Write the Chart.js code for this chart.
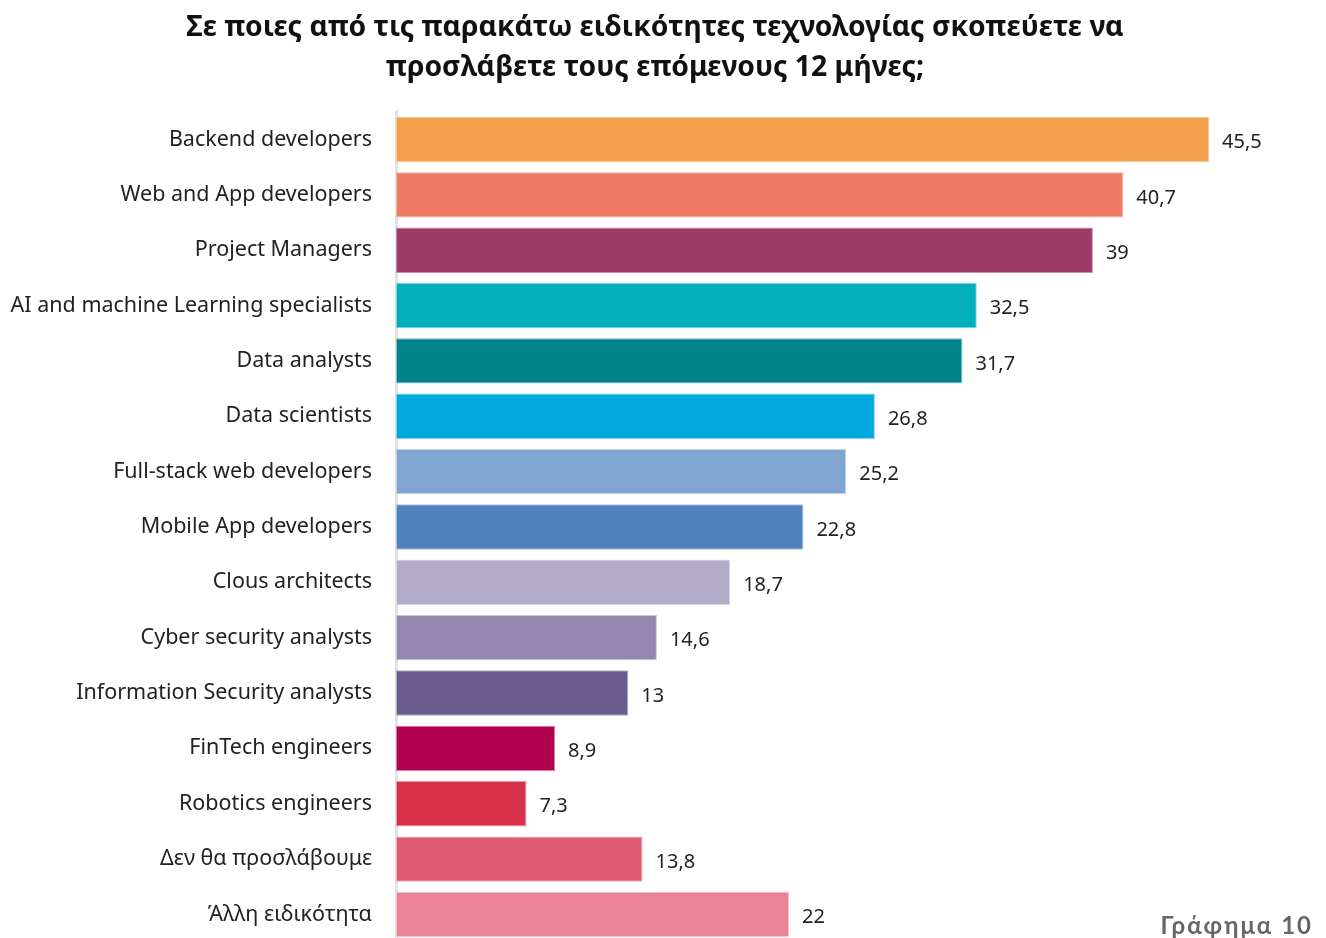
<!DOCTYPE html>
<html>
<head>
<meta charset="utf-8">
<script src="https://cdn.jsdelivr.net/npm/chart.js@4.4.1/dist/chart.umd.min.js"></script>
<style>
  html, body { margin: 0; padding: 0; background: #ffffff; overflow: hidden; }
  #wrap { position: relative; width: 1326px; height: 938px; overflow: hidden; }
  #note { position: absolute; right: 13px; top: 910px; font-family: 'Lato', 'DejaVu Sans', sans-serif; font-weight: 700; font-size: 24px; color: #666666; letter-spacing: 2px; }
</style>
</head>
<body>
<div id="wrap">
  <canvas id="c" width="1326" height="979"></canvas>
  <div id="note">Γράφημα 10</div>
</div>
<script>
const titleLines = ['Σε ποιες από τις παρακάτω ειδικότητες τεχνολογίας σκοπεύετε να', 'προσλάβετε τους επόμενους 12 μήνες;'];
const categories = [
  'Backend developers',
  'Web and App developers',
  'Project Managers',
  'AI and machine Learning specialists',
  'Data analysts',
  'Data scientists',
  'Full-stack web developers',
  'Mobile App developers',
  'Clous architects',
  'Cyber security analysts',
  'Information Security analysts',
  'FinTech engineers',
  'Robotics engineers',
  'Δεν θα προσλάβουμε',
  'Άλλη ειδικότητα'
];
const values = [45.5, 40.7, 39, 32.5, 31.7, 26.8, 25.2, 22.8, 18.7, 14.6, 13, 8.9, 7.3, 13.8, 22];
const barColors = [
  '#F5A04D', '#EF7B67', '#9C3B68', '#00AEBC', '#00848B', '#00A8DC', '#7FA5D0', '#4F81BD',
  '#B2ABCA', '#9387AF', '#6A5C8C', '#B0004F', '#D9314A', '#E05A71', '#EB8396'
];
const borderColors = [
  '#F9C89A', '#F5B0A4', '#C88BA6', '#7FD6DE', '#7FC1C5', '#7FD3EE', '#BFD2E8', '#A7C0DE',
  '#D8D5E5', '#C9C3D7', '#B4ADC5', '#D77FA7', '#EC98A4', '#EFACB8', '#F5C1CB'
];

const labelPlugin = {
  id: 'valueLabels',
  afterDatasetsDraw(chart) {
    const ctx = chart.ctx;
    const meta = chart.getDatasetMeta(0);
    ctx.save();
    ctx.font = '20px "Noto Sans", "Open Sans", sans-serif';
    ctx.fillStyle = '#222222';
    ctx.textAlign = 'left';
    ctx.textBaseline = 'middle';
    meta.data.forEach((bar, i) => {
      const txt = String(values[i]).replace('.', ',');
      ctx.fillText(txt, bar.x + 13, bar.y + 3);
    });
    ctx.restore();
  }
};

new Chart(document.getElementById('c'), {
  type: 'bar',
  data: {
    labels: categories,
    datasets: [{
      data: values,
      backgroundColor: barColors,
      borderColor: borderColors,
      borderWidth: 1,
      borderSkipped: false,
      categoryPercentage: 1,
      barPercentage: 0.82
    }]
  },
  options: {
    indexAxis: 'y',
    responsive: false,
    animation: false,
    layout: { padding: { top: 8, right: 16, bottom: 0, left: 0 } },
    plugins: {
      legend: { display: false },
      tooltip: { enabled: false },
      title: {
        display: true,
        text: titleLines,
        color: '#111111',
        font: { family: '"Noto Sans", "Open Sans", sans-serif', size: 28.3, weight: 'bold', lineHeight: 1.41 },
        padding: { top: 0, bottom: 24 }
      }
    },
    scales: {
      x: {
        display: false,
        min: 0,
        max: 51.15
      },
      y: {
        grid: { display: false, drawTicks: false },
        border: { display: true, color: '#E3E3E3', width: 3 },
        ticks: {
          padding: 24,
          color: '#222222',
          font: { family: '"Noto Sans", "Open Sans", sans-serif', size: 21.5 }
        },
        afterFit(scale) { scale.width = 396; }
      }
    }
  },
  plugins: [labelPlugin]
});
</script>
</body>
</html>
